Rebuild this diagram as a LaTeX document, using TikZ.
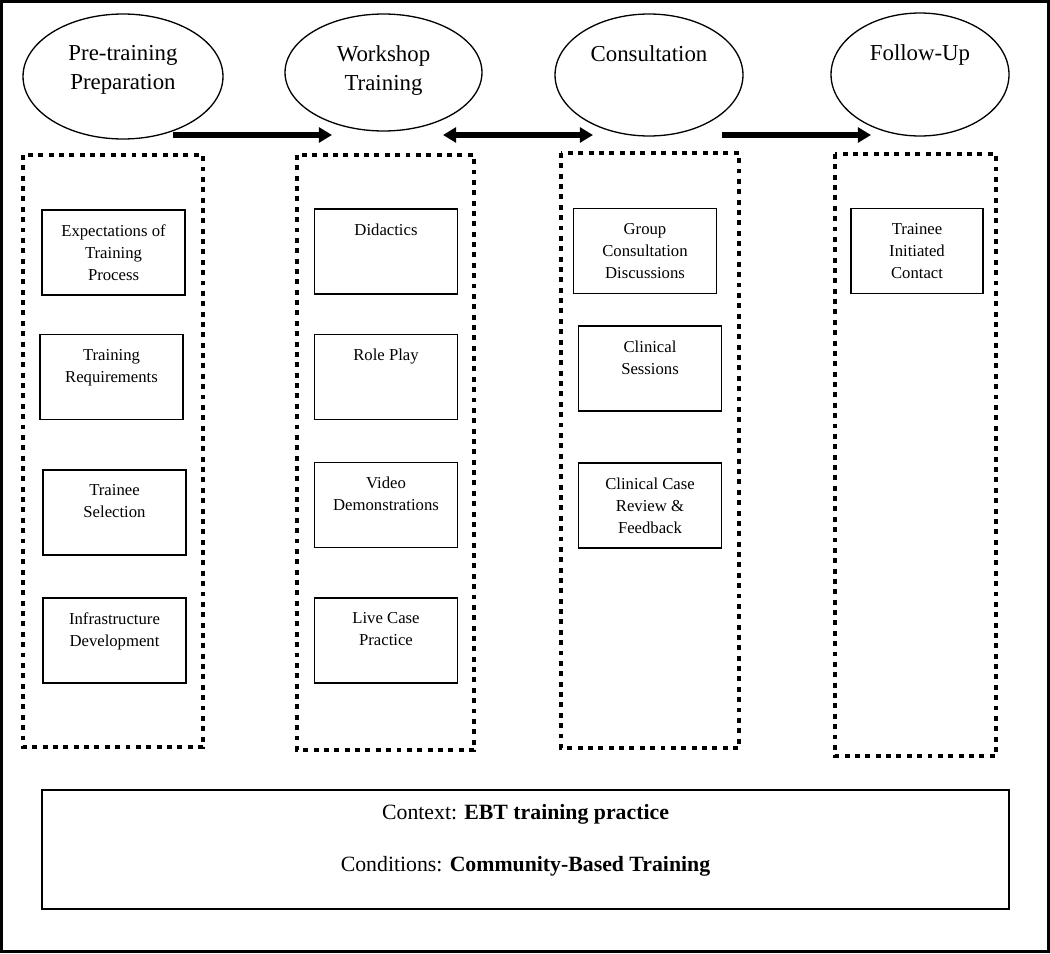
\documentclass[tikz,border=0pt]{standalone}
\usepackage{fontspec}
\setmainfont{Liberation Serif}
\usetikzlibrary{shapes.geometric,arrows.meta}

\tikzset{
  phase/.style={draw, ellipse, line width=0.75pt, inner sep=0pt},
  phasetext/.style={anchor=north, yshift=-18.2pt, align=center, inner sep=0pt, font=\fontsize{13}{16.5}\selectfont},
  dotbox/.style={line width=2.8pt, dash pattern=on 2.8pt off 3.1pt},
  item/.style={draw, line width=1pt, minimum width=2.86cm, minimum height=1.7cm, inner sep=0pt},
  itemtext/.style={anchor=north, yshift=-8.7pt, align=center, inner sep=0pt, font=\fontsize{9.5}{12.5}\selectfont},
  ctxtext/.style={anchor=north, yshift=-8.6pt, align=center, inner sep=0pt, font=\fontsize{12.4}{29.5}\selectfont},
  flow/.style={line width=3pt, -{Triangle[length=7.5pt,width=8.5pt]}},
  twoway/.style={line width=3pt, {Triangle[length=7.5pt,width=8.5pt]}-{Triangle[length=7.5pt,width=8.5pt]}}
}

\begin{document}
\begin{tikzpicture}[x=0.02cm, y=-0.02cm]
    \useasboundingbox (0,0) rectangle (1050,953);
    % Draw the frame
    \draw[line width=1.7pt] (1.5,1.5) rectangle (1048.5,951.5);

    % Phases
    \node[phase, minimum width=4cm, minimum height=2.5cm, label={[phasetext]north:Pre-training\\Preparation}] (pre) at (123,76.5) {};
    \node[phase, minimum width=3.94cm, minimum height=2.34cm, label={[phasetext]north:Workshop\\Training}] (work) at (383.5,72.5) {};
    \node[phase, minimum width=3.76cm, minimum height=2.44cm, label={[phasetext]north:Consultation}] (cons) at (649,75) {};
    \node[phase, minimum width=3.56cm, minimum height=2.46cm, label={[phasetext]north:Follow-Up}] (follow) at (920,74.5) {};

    % Arrows between phases
    \coordinate (a1) at (173,135);
    \coordinate (b1) at (332,135);
    \coordinate (a2) at (443,135);
    \coordinate (b2) at (593,135);
    \coordinate (a3) at (722,135);
    \coordinate (b3) at (871,135);
    \draw[flow] (a1) -- (b1);
    \draw[twoway] (a2) -- (b2);
    \draw[flow] (a3) -- (b3);

    % Draw the dotted columns
    \draw[dotbox] (23,155) rectangle (203,747);
    \draw[dotbox] (297,155) rectangle (474,750);
    \draw[dotbox] (561,153) rectangle (739,748);
    \draw[dotbox] (835,154) rectangle (996,756);

    % Pre-training items
    \node[item, label={[itemtext]north:Expectations of\\Training\\Process}] (expect) at (113.5,252.5) {};
    \node[item, label={[itemtext]north:Training\\Requirements}] (require) at (111.5,377) {};
    \node[item, label={[itemtext]north:Trainee\\Selection}] (select) at (114.5,512.5) {};
    \node[item, label={[itemtext]north:Infrastructure\\Development}] (infra) at (114.5,640.5) {};

    % Workshop items
    \node[item, label={[itemtext]north:Didactics}] (didact) at (386,251.5) {};
    \node[item, label={[itemtext]north:Role Play}] (role) at (386,377) {};
    \node[item, label={[itemtext]north:Video\\Demonstrations}] (video) at (386,505) {};
    \node[item, label={[itemtext]north:Live Case\\Practice}] (live) at (386,640.5) {};

    % Consultation items
    \node[item, label={[itemtext]north:Group\\Consultation\\Discussions}] (group) at (645,251) {};
    \node[item, label={[itemtext]north:Clinical\\Sessions}] (sessions) at (650,368.5) {};
    \node[item, label={[itemtext]north:Clinical Case\\Review \&\\Feedback}] (review) at (650,505.5) {};

    % Follow-up items
    \node[item, minimum width=2.64cm, label={[itemtext]north:Trainee\\Initiated\\Contact}] (contact) at (917,251) {};

    % Context
    \node[draw, line width=1.1pt, minimum width=19.34cm, minimum height=2.38cm, inner sep=0pt,
      label={[ctxtext]north:{Context: \textbf{EBT training practice}\\Conditions: \textbf{Community-Based Training}}}] (context) at (525.5,849.5) {};
\end{tikzpicture}
\end{document}
